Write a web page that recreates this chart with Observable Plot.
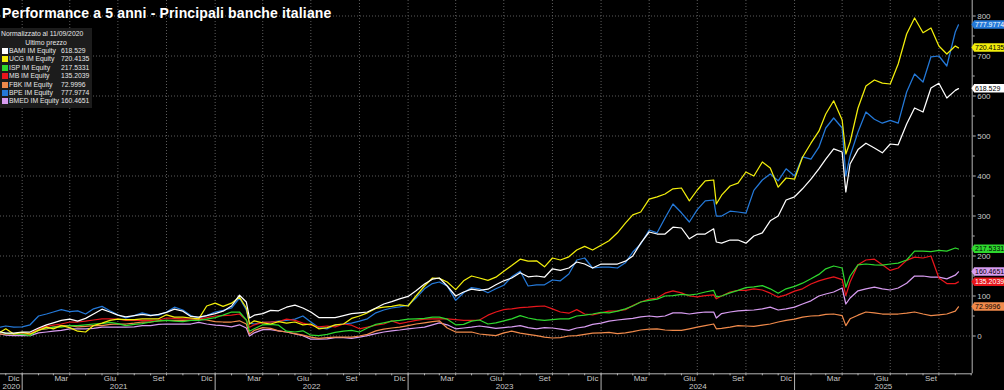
<!DOCTYPE html>
<html><head><meta charset="utf-8">
<script src="https://cdn.jsdelivr.net/npm/d3@7"></script>
<script src="https://cdn.jsdelivr.net/npm/@observablehq/plot@0.6"></script>
<style>
html,body{margin:0;padding:0;background:#000;}
#wrap{position:relative;width:1004px;height:390px;overflow:hidden;background:#000;font-family:"Liberation Sans",Arial,sans-serif;}
#wrap svg{position:absolute;left:0;top:0;}
#title{position:absolute;left:2px;top:5px;color:#fff;font-weight:bold;font-size:14px;letter-spacing:0.15px;white-space:nowrap;z-index:2;}
#legend{position:absolute;left:0;top:28px;width:92px;height:80px;background:#1c1c1c;color:#e6e6e6;font-size:6.8px;z-index:2;}
#legend div{position:absolute;white-space:nowrap;line-height:8px;}
#legend .sw{width:6px;height:6px;}
</style></head><body><div id="wrap"><div id="title">Performance a 5 anni - Principali banche italiane</div><div id="legend"></div></div>
<script>
const dates = [
"2020-11-21","2020-12-01","2020-12-16",
"2021-01-01","2021-01-16","2021-02-01","2021-02-16","2021-03-01","2021-03-16","2021-04-01","2021-04-16","2021-05-01","2021-05-16","2021-06-01","2021-06-16","2021-07-01","2021-07-16","2021-08-01","2021-08-16","2021-09-01","2021-09-16","2021-10-01","2021-10-16","2021-11-01","2021-11-16","2021-12-01","2021-12-16",
"2022-01-01","2022-01-16","2022-02-01","2022-02-16","2022-03-01","2022-03-07","2022-03-16","2022-04-01","2022-04-16","2022-05-01","2022-05-16","2022-06-01","2022-06-16","2022-07-01","2022-07-16","2022-08-01","2022-08-16","2022-09-01","2022-09-16","2022-10-01","2022-10-16","2022-11-01","2022-11-16","2022-12-01","2022-12-16",
"2023-01-01","2023-01-16","2023-02-01","2023-02-16","2023-03-01","2023-03-16","2023-04-01","2023-04-16","2023-05-01","2023-05-16","2023-06-01","2023-06-16","2023-07-01","2023-07-16","2023-08-01","2023-08-16","2023-09-01","2023-09-16","2023-10-01","2023-10-16","2023-11-01","2023-11-16","2023-12-01","2023-12-16",
"2024-01-01","2024-01-16","2024-02-01","2024-02-16","2024-03-01","2024-03-16","2024-04-01","2024-04-16","2024-05-01","2024-05-16","2024-06-01","2024-06-16","2024-07-01","2024-07-16","2024-08-01","2024-08-06","2024-08-16","2024-09-01","2024-09-16","2024-10-01","2024-10-16","2024-11-01","2024-11-16","2024-12-01","2024-12-16",
"2025-01-01","2025-01-16","2025-02-01","2025-02-16","2025-03-01","2025-03-16","2025-04-01","2025-04-08","2025-04-16","2025-05-01","2025-05-16","2025-06-01","2025-06-16","2025-07-01","2025-07-16","2025-08-01","2025-08-16","2025-09-01","2025-09-16","2025-10-01","2025-10-16","2025-11-01","2025-11-07"
];

const BAMI = [10,7,7,
10,10,20,28,33,39,42,37,44,55,67,60,52,48,51,54,51,54,59,67,62,49,47,51,
56,62,75,102,85,45,52,56,64,63,72,77,70,60,46,46,46,51,56,58,60,70,80,86,93,
99,113,130,142,145,125,100,110,117,114,117,128,138,145,158,148,150,147,168,164,170,185,180,170,
180,180,180,187,200,232,260,255,255,272,270,243,255,255,268,235,232,240,240,232,250,258,288,300,340,
348,368,392,418,442,468,460,360,430,466,482,470,458,480,478,530,570,560,620,632,595,614,618.529];

const UCG = [10,18,5,
9,5,14,22,18,26,21,12,10,26,32,39,42,41,41,43,43,43,53,47,47,45,43,75,
82,74,82,97,70,30,38,33,30,36,32,35,28,30,18,21,28,30,44,50,58,69,72,74,78,
75,100,125,145,144,135,116,138,150,145,139,147,162,176,192,187,188,173,195,190,198,215,224,215,
227,238,258,282,303,310,342,348,355,368,370,338,365,388,390,330,352,375,382,410,400,435,420,372,395,
392,447,482,512,555,588,540,455,485,570,625,640,632,630,680,755,795,758,770,725,705,725,720.4135];

const ISP = [10,6,5,
4,1,15,20,22,22,26,26,28,30,31,34,31,26,29,31,35,38,39,37,36,39,39,42,
46,52,60,60,40,12,18,28,29,27,12,10,13,2,1,4,9,12,14,10,20,29,33,37,39,
42,43,44,47,47,42,28,29,37,40,30,33,38,43,51,45,41,39,41,43,43,50,52,55,
59,58,62,68,75,85,89,92,100,101,104,102,105,110,114,98,100,108,114,121,123,126,118,107,118,
124,132,143,154,168,175,170,122,150,178,180,178,177,180,182,190,212,212,211,214,212,220,217.5331];

const MB = [10,6,5,
5,5,18,24,27,30,35,35,37,40,43,43,42,39,39,39,39,40,45,44,43,43,43,46,
50,51,52,55,40,22,28,34,35,36,42,39,32,27,23,25,23,30,27,18,22,27,30,38,31,
35,39,42,43,43,43,41,39,39,40,52,60,66,68,71,72,74,75,68,60,57,66,55,53,
58,62,63,66,76,85,92,95,107,113,108,100,98,101,103,93,100,110,114,114,118,115,107,97,103,
112,118,130,138,143,148,141,101,135,178,190,192,178,164,170,189,197,195,200,145,131,131,135.2039];

const FBK = [5,5,5,
5,5,15,18,22,26,26,23,24,26,26,29,30,30,32,35,35,38,39,39,39,39,42,40,
36,35,35,38,30,5,14,21,19,13,10,6,2,-3,-6,-4,-3,-3,-3,0,4,13,17,20,22,
26,30,33,36,38,20,10,10,10,5,3,1,8,12,7,4,1,-3,-5,-4,0,1,4,7,
8,9,6,8,11,15,17,18,15,14,14,18,22,26,30,18,19,22,26,25,24,27,30,35,39,
42,47,50,51,54,55,51,26,43,52,60,58,55,55,55,57,60,55,51,53,55,62,72.9996];

const BPE = [22,25,22,
23,28,50,55,60,66,61,63,55,68,74,63,53,45,51,58,52,52,60,72,65,51,45,51,
60,64,70,95,65,32,30,34,35,37,39,42,50,35,21,18,27,30,32,37,43,58,65,70,73,
77,95,118,131,135,125,89,108,121,118,108,118,127,148,162,125,128,128,140,138,155,190,195,170,
172,172,170,183,210,230,265,258,295,330,308,285,316,338,340,300,300,312,310,307,364,390,405,388,418,
400,448,442,472,520,545,520,400,450,510,560,542,532,539,532,610,655,635,698,700,675,760,777.9774];

const BMED = [5,2,1,
1,1,8,10,12,14,18,18,18,19,22,22,22,22,23,26,26,29,30,30,30,30,34,30,
27,26,23,28,20,0,8,16,16,13,10,5,1,-8,-8,-7,-4,-4,-6,-3,1,6,10,13,15,
18,20,22,28,33,28,18,20,22,25,22,19,21,23,26,21,18,21,20,17,14,20,23,29,
32,37,40,42,44,48,50,48,50,58,58,55,58,60,60,45,56,60,63,64,65,68,72,65,68,
72,80,88,100,105,110,120,80,95,113,118,122,118,115,120,132,150,150,147,147,143,152,160.4651];

const names = ["BAMI IM Equity","UCG IM Equity","ISP IM Equity","MB IM Equity","FBK IM Equity","BPE IM Equity","BMED IM Equity"];
const lastLabels = ["618.529","720.4135","217.5331","135.2039","72.9996","777.9774","160.4651"];
const colors = ["#ffffff","#f2ee0c","#2ed82e","#e8161c","#f08a4b","#2479d9","#d79cf0"];
const tagText = ["#000","#000","#000","#fff","#000","#fff","#000"];
const seriesValues = [BAMI, UCG, ISP, MB, FBK, BPE, BMED];
const yTicks = [0,100,200,300,400,500,600,700,800];
const yMinor = [50,150,250,350,450,550,650,750];
const monthNamesIt = ["Gen","Feb","Mar","Apr","Mag","Giu","Lug","Ago","Set","Ott","Nov","Dic"];
const legendHeader = ["Normalizzato al 11/09/2020","Ultimo prezzo"];

const parse = d3.utcParse("%Y-%m-%d");
const dateObjs = dates.map(parse);
const series = names.map((name, i) => ({
  name, color: colors[i], last: lastLabels[i], textColor: tagText[i],
  rows: seriesValues[i].map((v, j) => ({date: dateObjs[j], value: v}))
}));

const xDomain = [new Date(Date.UTC(2020,10,21)), new Date(Date.UTC(2025,11,3))];
const monthStarts = d3.utcMonth.range(xDomain[0], xDomain[1]);
const quarterStarts = monthStarts.filter(d => d.getUTCMonth() % 3 === 0);
const monthMids = monthStarts.filter(d => [11,2,5,8].includes(d.getUTCMonth()))
  .map(d => d3.utcDay.offset(d, 15)).filter(d => d < xDomain[1]);
const yearStarts = d3.utcYear.range(xDomain[0], xDomain[1]);
const bounds = [xDomain[0], ...yearStarts, xDomain[1]];
const yearMids = d3.pairs(bounds).map(([a,b]) => new Date((+a + +b)/2));

const gridColor = "#5c5c5c";
const axisColor = "#b4b4b4";

const lineMarks = series.slice().reverse().map(s =>
  Plot.line(s.rows, {x: "date", y: "value", stroke: s.color, strokeWidth: 1.25}));

const lastRows = series.map(s => ({value: s.rows[s.rows.length-1].value, label: s.last, color: s.color, tc: s.textColor}));

const chart = Plot.plot({
  width: 1004, height: 390,
  marginLeft: 0, marginRight: 32.3, marginTop: 0, marginBottom: 16.7,
  style: {background: "#000", color: axisColor, fontFamily: "'Liberation Sans', Arial, sans-serif", fontSize: "8px", overflow: "visible"},
  x: {type: "utc", domain: xDomain, axis: null},
  y: {domain: [-94.5, 838.75], axis: null},
  marks: [
    Plot.ruleY(yTicks, {stroke: gridColor, strokeDasharray: "1,2"}),
    Plot.ruleX(quarterStarts, {stroke: gridColor, strokeDasharray: "1,2"}),
    ...lineMarks,
    Plot.ruleX([xDomain[1]], {stroke: axisColor}),
    Plot.ruleY([-94.5], {stroke: axisColor}),
    Plot.axisY(yTicks, {anchor: "right", tickSize: 3, tickPadding: 2, fontSize: 8, label: null, stroke: axisColor, fill: "#c8c8c8"}),
    Plot.axisY(yMinor, {anchor: "right", tickSize: 2, text: null, label: null, stroke: axisColor}),
    Plot.axisX(monthStarts, {anchor: "bottom", tickSize: 2, text: null, label: null, stroke: axisColor}),
    Plot.axisX(yearStarts, {anchor: "bottom", tickSize: 17, text: null, label: null, stroke: axisColor}),
    Plot.axisX(monthMids, {anchor: "bottom", tickSize: 0, tickPadding: 2, label: null, fontSize: 8, fill: "#c8c8c8", tickFormat: d => monthNamesIt[d.getUTCMonth()]}),
    Plot.axisX(yearMids, {anchor: "bottom", tickSize: 0, tickPadding: 9.5, label: null, fontSize: 8, fill: "#c8c8c8", tickFormat: d => String(d.getUTCFullYear())}),
    Plot.text(lastRows, {frameAnchor: "right", y: "value", text: "label", dx: 2.8, textAnchor: "start", fontSize: 7, fill: "tc"})
  ]
});

const wrap = document.getElementById("wrap");
wrap.insertBefore(chart, wrap.firstChild);

// tag backgrounds behind the value labels
const tagGroup = chart.querySelector('g[aria-label="text"]');
if (tagGroup) {
  const tagTexts = tagGroup.querySelectorAll('text');
  tagTexts.forEach((t, i) => {
    const b = t.getBBox();
    const cy = b.y + b.height/2;
    const h = 8.5;
    const x0 = b.x - 0.8;
    const p = document.createElementNS("http://www.w3.org/2000/svg", "path");
    p.setAttribute("d", `M${x0-2.8},${cy} L${x0},${cy-h/2} L${x0+60},${cy-h/2} L${x0+60},${cy+h/2} L${x0},${cy+h/2} Z`);
    p.setAttribute("fill", lastRows[i].color);
    const tr = t.getAttribute("transform");
    if (tr) p.setAttribute("transform", tr);
    t.parentNode.insertBefore(p, t);
  });
}

// legend
const leg = document.getElementById("legend");
let html = `<div style="left:1px;top:2px;">${legendHeader[0]}</div><div style="left:0;width:92px;text-align:center;top:11px;">${legendHeader[1]}</div>`;
series.forEach((s, i) => {
  const top = 19 + i*8.4;
  html += `<div class="sw" style="left:1.5px;top:${top+1}px;background:${s.color}"></div>`;
  html += `<div style="left:9px;top:${top}px;">${s.name}</div>`;
  html += `<div style="left:61px;top:${top}px;">${s.last}</div>`;
});
leg.innerHTML = html;
</script>
</body></html>
